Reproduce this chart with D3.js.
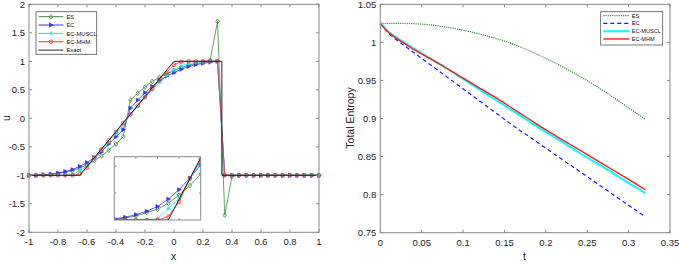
<!DOCTYPE html>
<html><head><meta charset="utf-8">
<script src="https://cdn.jsdelivr.net/npm/d3@7/dist/d3.min.js"></script>
<style>body{margin:0;background:#fff}svg{display:block}text{font-family:Arial,"Liberation Sans",sans-serif}</style>
</head><body>
<svg id="c" width="679" height="264"></svg>
<script>
// ---- left panel data ----
const xs = [-1,-0.95,-0.9,-0.85,-0.8,-0.75,-0.7,-0.65,-0.6,-0.55,-0.5,-0.45,-0.4,-0.35,-0.3,-0.25,-0.2,-0.15,-0.1,-0.05,0,0.05,0.1,0.15,0.2,0.25,0.3,0.35,0.4,0.45,0.5,0.55,0.6,0.65,0.7,0.75,0.8,0.85,0.9,0.95,1];
const uES = [-1,-1,-0.995,-0.985,-0.97,-0.945,-0.92,-0.875,-0.815,-0.745,-0.66,-0.56,-0.45,-0.32,0.32,0.44,0.55,0.65,0.72,0.78,0.84,0.89,0.93,0.96,0.98,1.02,1.7,-1.7,-1.02,-1,-1,-1,-1,-1,-1,-1,-1,-1,-1,-1,-1];
const uEC = [-1,-1,-0.99,-0.98,-0.96,-0.935,-0.9,-0.845,-0.775,-0.69,-0.59,-0.45,-0.325,-0.2,0.18,0.32,0.45,0.56,0.66,0.74,0.8,0.86,0.91,0.94,0.965,0.985,1,-1,-1,-1,-1,-1,-1,-1,-1,-1,-1,-1,-1,-1,-1];
const uMUSCL = [-1,-1,-1,-1,-1,-1,-0.99,-0.915,-0.84,-0.7,-0.56,-0.42,-0.27,-0.11,0.06,0.21,0.36,0.5,0.63,0.75,0.85,0.92,0.96,0.98,0.99,1,1,-1,-1,-1,-1,-1,-1,-1,-1,-1,-1,-1,-1,-1,-1];
const uMHM = [-1,-1,-1,-1,-1,-1,-1,-0.975,-0.865,-0.69,-0.545,-0.39,-0.24,-0.08,0.07,0.22,0.37,0.52,0.67,0.8,0.94,0.99,1,1,1,1,1,-1,-1,-1,-1,-1,-1,-1,-1,-1,-1,-1,-1,-1,-1];
const exactX = [-1,-0.65,0,0.33,0.33,1];
const exactU = [-1,-1,1,1,-1,-1];
const leftXTicks = [-1,-0.8,-0.6,-0.4,-0.2,0,0.2,0.4,0.6,0.8,1];
const leftYTicks = [-2,-1.5,-1,-0.5,0,0.5,1,1.5,2];
const insetXTicks = [-0.8,-0.7,-0.6];
const insetYTicks = [-0.8,-0.6];

// ---- right panel data ----
const ts = [0,0.01,0.02,0.03,0.04,0.06,0.08,0.1,0.12,0.14,0.16,0.18,0.2,0.22,0.24,0.26,0.28,0.3,0.32];
const sES = [1.025,1.025,1.025,1.0248,1.0245,1.023,1.02,1.016,1.011,1.005,0.998,0.989,0.979,0.968,0.956,0.943,0.929,0.914,0.899];
const sEC = [1.025,1.012,1.003,0.995,0.987,0.971,0.955,0.939,0.923,0.907,0.891,0.876,0.861,0.846,0.831,0.816,0.801,0.786,0.771];
const sMUSCL = [1.025,1.014,1.006,0.999,0.992,0.979,0.966,0.952,0.938,0.924,0.91,0.896,0.882,0.869,0.855,0.842,0.829,0.815,0.802];
const sMHM = [1.025,1.013,1.005,0.998,0.991,0.979,0.966,0.953,0.94,0.927,0.913,0.899,0.885,0.872,0.859,0.846,0.833,0.82,0.8065];
const rightXTicks = [0,0.05,0.1,0.15,0.2,0.25,0.3,0.35];
const rightYTicks = [0.75,0.8,0.85,0.9,0.95,1,1.05];

const svg = d3.select("#c");
const boxCol = "#8a8a8a", txtCol = "#262626";
const cG = "#3f8f3f", cB = "#3333ff", cC = "#00f0f0", cR = "#ff3030";

function frame(g, x, y, xt, yt, fmtX, fmtY, labels, tl) {
  const [x0,x1] = x.range(), [y0,y1] = y.range();
  g.append("rect").attr("x",x0).attr("y",y1).attr("width",x1-x0).attr("height",y0-y1)
    .attr("fill","none").attr("stroke",boxCol).attr("stroke-width",1);
  xt.forEach(v=>{
    const px = x(v);
    g.append("line").attr("x1",px).attr("x2",px).attr("y1",y0).attr("y2",y0-tl).attr("stroke",boxCol);
    g.append("line").attr("x1",px).attr("x2",px).attr("y1",y1).attr("y2",y1+tl).attr("stroke",boxCol);
    if (labels) g.append("text").attr("x",px).attr("y",y0+13).attr("text-anchor","middle")
      .attr("font-size",9.5).attr("fill",txtCol).text(fmtX(v));
  });
  yt.forEach(v=>{
    const py = y(v);
    g.append("line").attr("x1",x0).attr("x2",x0+tl).attr("y1",py).attr("y2",py).attr("stroke",boxCol);
    g.append("line").attr("x1",x1).attr("x2",x1-tl).attr("y1",py).attr("y2",py).attr("stroke",boxCol);
    if (labels) g.append("text").attr("x",x0-4).attr("y",py+3.3).attr("text-anchor","end")
      .attr("font-size",9.5).attr("fill",txtCol).text(fmtY(v));
  });
}
const fmt = v => String(+v.toFixed(2));

function marker(g, type, px, py, col) {
  if (type==="d") g.append("path").attr("d",`M${px},${py-2.4}L${px+1.8},${py}L${px},${py+2.4}L${px-1.8},${py}Z`).attr("fill","none").attr("stroke",col).attr("stroke-width",0.8);
  else if (type==="t") g.append("path").attr("d",`M${px+2.3},${py}L${px-1.6},${py-2.1}L${px-1.6},${py+2.1}Z`).attr("fill",col).attr("stroke",col).attr("stroke-width",0.5);
  else if (type==="s") { g.append("path").attr("d",`M${px-1.8},${py}H${px+1.8}M${px},${py-1.8}V${py+1.8}M${px-1.3},${py-1.3}L${px+1.3},${py+1.3}M${px-1.3},${py+1.3}L${px+1.3},${py-1.3}`).attr("stroke",col).attr("stroke-width",0.8); }
  else if (type==="o") g.append("circle").attr("cx",px).attr("cy",py).attr("r",1.8).attr("fill","none").attr("stroke",col).attr("stroke-width",0.8);
}

const series = [
  {name:"ES", u:uES, col:cG, m:"d"},
  {name:"EC", u:uEC, col:cB, m:"t"},
  {name:"EC-MUSCL", u:uMUSCL, col:cC, m:"s"},
  {name:"EC-MHM", u:uMHM, col:cR, m:"o"}
];

function drawSeries(g, x, y, filter) {
  series.forEach(s=>{
    const pts = xs.map((v,i)=>[v,s.u[i]]);
    g.append("path").attr("d", d3.line().x(d=>x(d[0])).y(d=>y(d[1]))(pts))
      .attr("fill","none").attr("stroke",s.col).attr("stroke-width",1).attr("stroke-opacity",0.8);
    pts.filter(filter).forEach(d=>marker(g, s.m, x(d[0]), y(d[1]), s.col));
  });
  const ep = exactX.map((v,i)=>[v,exactU[i]]);
  g.append("path").attr("d", d3.line().x(d=>x(d[0])).y(d=>y(d[1]))(ep))
    .attr("fill","none").attr("stroke","#222").attr("stroke-width",1);
}

// ---- left panel ----
const xL = d3.scaleLinear().domain([-1,1]).range([29,319]);
const yL = d3.scaleLinear().domain([-2,2]).range([232.3,4.3]);
const gL = svg.append("g");
gL.append("rect").attr("x",29).attr("y",4.3).attr("width",290).attr("height",228).attr("fill","#fff");
drawSeries(gL, xL, yL, ()=>true);
frame(gL, xL, yL, leftXTicks, leftYTicks, fmt, fmt, true, 3);
gL.append("text").attr("x",173.5).attr("y",260).attr("text-anchor","middle").attr("font-size",10.5).attr("fill",txtCol).text("x");
gL.append("text").attr("transform","translate(9.5,118) rotate(-90)").attr("text-anchor","middle").attr("font-size",10.5).attr("fill",txtCol).text("u");

// legend left
const lg = gL.append("g");
lg.append("rect").attr("x",36).attr("y",11.7).attr("width",60.7).attr("height",42.6).attr("fill","#fff").attr("stroke","#555").attr("stroke-width",0.8);
const legL = series.map(s=>({name:s.name,col:s.col,m:s.m})).concat([{name:"Exact",col:"#222",m:null}]);
legL.forEach((s,i)=>{
  const py = 16.7 + i*8.35;
  lg.append("line").attr("x1",38.5).attr("x2",63.3).attr("y1",py).attr("y2",py).attr("stroke",s.col).attr("stroke-width",1);
  if (s.m) marker(lg, s.m, 51, py, s.col);
  lg.append("text").attr("x",66.5).attr("y",py+2.1).attr("font-size",5.8).attr("fill","#111").text(s.name);
});

// inset
const xI = d3.scaleLinear().domain([-0.9,-0.5]).range([114.3,200.7]);
const yI = d3.scaleLinear().domain([-1,-0.53]).range([220,156.7]);
const gI = svg.append("g");
gI.append("rect").attr("x",114.3).attr("y",156.7).attr("width",86.4).attr("height",63.3).attr("fill","#fff");
svg.append("clipPath").attr("id","ci").append("rect").attr("x",114.3).attr("y",156.7).attr("width",86.4).attr("height",63.3);
const gIc = gI.append("g").attr("clip-path","url(#ci)");
drawSeries(gIc, xI, yI, d=>d[0]>=-0.901 && d[0]<=-0.499);
frame(gI, xI, yI, insetXTicks, insetYTicks, fmt, fmt, false, 2);

// ---- right panel ----
const xR = d3.scaleLinear().domain([0,0.35]).range([380.3,670]);
const yR = d3.scaleLinear().domain([0.75,1.05]).range([232.7,4.3]);
const gR = svg.append("g");
const rs = [
  {name:"ES", v:sES, col:"#3f8f3f", w:1.2, dash:"1.2,1"},
  {name:"EC", v:sEC, col:"#1a1aff", w:1.2, dash:"4,3"},
  {name:"EC-MUSCL", v:sMUSCL, col:"#00ffff", w:2, dash:null},
  {name:"EC-MHM", v:sMHM, col:"#ff1a1a", w:1.4, dash:null}
];
rs.forEach(s=>{
  const p = gR.append("path").attr("d", d3.line().curve(d3.curveMonotoneX).x((d,i)=>xR(ts[i])).y(d=>yR(d))(s.v))
    .attr("fill","none").attr("stroke",s.col).attr("stroke-width",s.w);
  if (s.dash) p.attr("stroke-dasharray",s.dash);
});
frame(gR, xR, yR, rightXTicks, rightYTicks, fmt, fmt, true, 3);
gR.append("text").attr("x",524.5).attr("y",260).attr("text-anchor","middle").attr("font-size",10.5).attr("fill",txtCol).text("t");
gR.append("text").attr("transform","translate(354,118) rotate(-90)").attr("text-anchor","middle").attr("font-size",10.5).attr("fill",txtCol).text("Total Entropy");

const lr = gR.append("g");
lr.append("rect").attr("x",600.7).attr("y",11.7).attr("width",62).attr("height",33.3).attr("fill","#fff").attr("stroke","#555").attr("stroke-width",0.8);
rs.forEach((s,i)=>{
  const py = 15.7 + i*7.75;
  const l = lr.append("line").attr("x1",603.3).attr("x2",629.3).attr("y1",py).attr("y2",py).attr("stroke",s.col).attr("stroke-width",s.w);
  if (s.dash) l.attr("stroke-dasharray",s.dash);
  lr.append("text").attr("x",631.7).attr("y",py+2).attr("font-size",5.6).attr("fill","#111").text(s.name);
});
</script>
</body></html>
